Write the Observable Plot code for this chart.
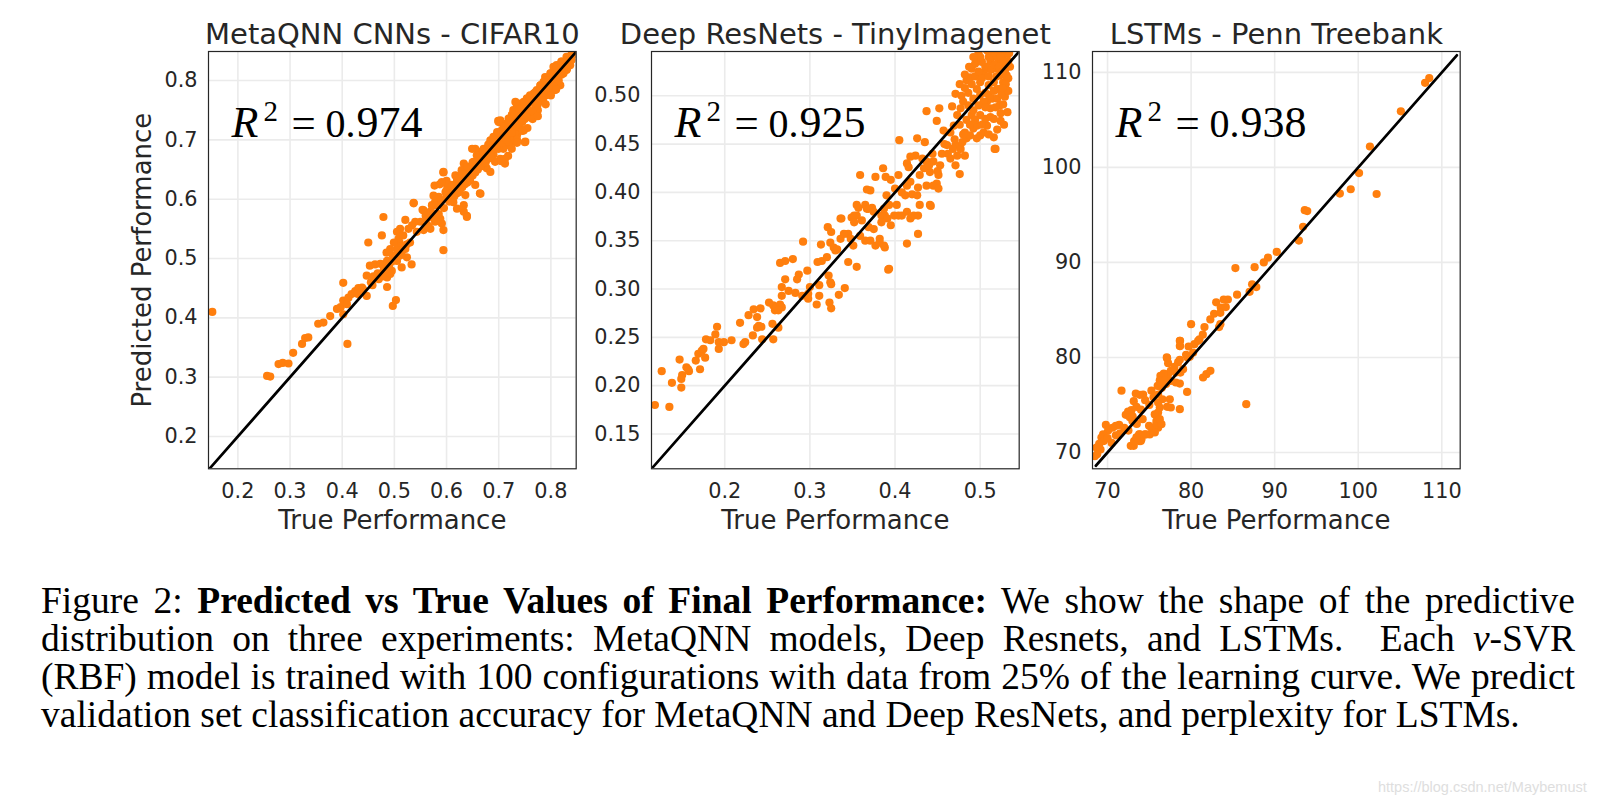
<!DOCTYPE html>
<html>
<head>
<meta charset="utf-8">
<script src="https://cdn.jsdelivr.net/npm/d3@7"></script>
<script src="https://cdn.jsdelivr.net/npm/@observablehq/plot@0.6"></script>
<style>
  body { margin: 0; background: #fff; }
  #root { position: relative; width: 1614px; height: 806px; overflow: hidden; background: #fff; }
  .panel { position: absolute; top: 0; }
  #caption { position: absolute; left: 41px; top: 582px; width: 1534px;
    font-family: "Liberation Serif", "Times New Roman", serif; font-size: 37.5px; line-height: 38px; color: #000; }
  #caption .ln { white-space: nowrap; }
  #wm { position: absolute; left: 1378px; top: 779px; font-family: "Liberation Sans", Arial, sans-serif;
    font-size: 14.5px; color: #dedede; white-space: nowrap; }
</style>
</head>
<body>
<div id="root">
  <div id="p1" class="panel"></div>
  <div id="p2" class="panel"></div>
  <div id="p3" class="panel"></div>
  <div id="caption">
    <div class="ln j"><span>Figure 2: <b>Predicted vs True Values of Final Performance:</b> We show the shape of the predictive</span></div>
    <div class="ln j"><span>distribution on three experiments: MetaQNN models, Deep Resnets, and LSTMs.&nbsp; Each <i>ν</i>-SVR</span></div>
    <div class="ln j"><span>(RBF) model is trained with 100 configurations with data from 25% of the learning curve. We predict</span></div>
    <div class="ln"><span>validation set classification accuracy for MetaQNN and Deep ResNets, and perplexity for LSTMs.</span></div>
  </div>
  <div id="wm">https://blog.csdn.net/Maybemust</div>
</div>
<script>
// ---------------- DATA ----------------
const titles = ["MetaQNN CNNs - CIFAR10", "Deep ResNets - TinyImagenet", "LSTMs - Penn Treebank"];
const r2Values = ["974", "925", "938"];
const xLabel = "True Performance";
const yLabel = "Predicted Performance";

const cifarTicks = [0.2, 0.3, 0.4, 0.5, 0.6, 0.7, 0.8];
const cifarXDomain = [0.1437, 0.8485];
const cifarYDomain = [0.1455, 0.849];
const cifarDiag = [0.1437, 0.8485];
const cifarPoints = [
[0.151,0.410],[0.256,0.302],[0.262,0.301],[0.278,0.322],[0.286,0.324],[0.297,0.323],[0.306,0.341],[0.323,0.356],[0.329,0.366],[0.335,0.367],[0.354,0.390],[0.364,0.392],[0.377,0.403],[0.390,0.415],[0.397,0.418],[0.402,0.429],[0.402,0.406],[0.409,0.423],[0.402,0.459],[0.410,0.356],[0.412,0.434],[0.418,0.440],[0.425,0.445],[0.431,0.450],[0.438,0.451],[0.447,0.437],[0.450,0.527],[0.447,0.471],[0.453,0.488],[0.463,0.490],[0.473,0.491],[0.479,0.490],[0.486,0.496],[0.486,0.452],[0.465,0.468],[0.474,0.474],[0.486,0.468],[0.492,0.474],[0.497,0.420],[0.503,0.430],[0.495,0.479],[0.505,0.496],[0.514,0.485],[0.524,0.502],[0.533,0.490],[0.505,0.507],[0.514,0.516],[0.524,0.524],[0.505,0.516],[0.510,0.527],[0.537,0.593],[0.554,0.582],[0.594,0.645],[0.577,0.623],[0.587,0.625],[0.600,0.631],[0.664,0.610],[0.639,0.572],[0.633,0.579],[0.699,0.732],[0.683,0.687],[0.750,0.696],[0.718,0.673],
[0.430,0.440],[0.440,0.448],[0.455,0.460],[0.460,0.470],[0.468,0.475],[0.480,0.482],[0.488,0.485],[0.495,0.495],[0.500,0.500],[0.458,0.455],[0.470,0.465],[0.478,0.470],[0.490,0.488],[0.497,0.505],[0.485,0.478],
[0.840,0.846],[0.834,0.837],[0.827,0.829],[0.821,0.832],[0.811,0.826],[0.805,0.823],[0.818,0.820],[0.824,0.812],[0.831,0.820],[0.837,0.826],[0.799,0.812],[0.792,0.803],[0.786,0.798],[0.805,0.798],[0.811,0.803],[0.818,0.792],[0.808,0.784],[0.795,0.781],[0.789,0.806],[0.780,0.792],[0.773,0.784],[0.767,0.778],[0.760,0.775],[0.754,0.770],[0.748,0.764],[0.741,0.761],[0.735,0.756],[0.728,0.750],[0.764,0.764],[0.773,0.764],[0.780,0.770],[0.786,0.781],[0.792,0.787],[0.754,0.753],[0.748,0.744],[0.741,0.739],[0.735,0.758],[0.732,0.764],[0.725,0.742],[0.719,0.736],[0.712,0.727],[0.709,0.725],[0.703,0.733],[0.700,0.730],[0.706,0.716],[0.716,0.719],[0.722,0.722],[0.728,0.725],[0.738,0.728],[0.741,0.719],[0.748,0.716],[0.751,0.697],[0.735,0.708],[0.728,0.702],[0.725,0.697],[0.719,0.691],[0.716,0.697],[0.709,0.705],[0.697,0.713],[0.690,0.705],[0.684,0.699],[0.681,0.691],[0.690,0.685],[0.700,0.685],[0.709,0.685],[0.703,0.668],[0.712,0.660],[0.693,0.663],[0.684,0.674],[0.671,0.685],[0.665,0.680],[0.655,0.685],[0.649,0.685],[0.658,0.674],[0.665,0.663],[0.671,0.657],[0.677,0.652],[0.684,0.646],[0.652,0.663],[0.645,0.652],[0.633,0.660],[0.629,0.649],[0.639,0.640],[0.645,0.632],[0.655,0.624],[0.665,0.609],[0.623,0.638],[0.617,0.640],[0.620,0.629],[0.626,0.618],[0.636,0.607],[0.633,0.590],[0.639,0.570],[0.610,0.624],[0.601,0.624],[0.594,0.646],[0.591,0.629],[0.598,0.612],[0.607,0.601],[0.613,0.595],[0.620,0.584],[0.585,0.604],[0.578,0.595],[0.572,0.590],[0.575,0.606],[0.569,0.578],[0.556,0.581],[0.562,0.567],[0.550,0.562],[0.540,0.562],[0.534,0.556],[0.543,0.545],[0.556,0.548],[0.569,0.550],[0.578,0.562],[0.588,0.567],[0.591,0.559],[0.594,0.548],[0.537,0.594],[0.521,0.565],[0.527,0.550],[0.511,0.550],[0.505,0.545],[0.508,0.533],[0.499,0.527],[0.492,0.516],[0.485,0.510],[0.517,0.539],[0.530,0.527],[0.521,0.516],[0.514,0.510],[0.511,0.505],[0.502,0.502],[0.594,0.514],[0.479,0.570],[0.476,0.539],
[0.600,0.605],[0.605,0.612],[0.612,0.615],[0.618,0.625],[0.625,0.628],[0.630,0.635],[0.635,0.640],[0.640,0.645],[0.645,0.648],[0.650,0.655],[0.655,0.660],[0.660,0.665],[0.665,0.668],[0.670,0.675],[0.675,0.678],[0.680,0.682],[0.685,0.690],[0.690,0.695],[0.695,0.700],[0.700,0.705],[0.705,0.710],[0.710,0.712],[0.715,0.720],[0.720,0.725],[0.725,0.730],[0.730,0.735],[0.735,0.740],[0.740,0.745],[0.745,0.750],[0.750,0.752],[0.755,0.758],[0.760,0.765],[0.765,0.770],[0.770,0.772],[0.775,0.778],[0.780,0.785],[0.785,0.790],[0.790,0.792],[0.795,0.800],[0.800,0.805],[0.805,0.810],[0.810,0.815],[0.815,0.818],[0.820,0.825],[0.825,0.830],[0.830,0.835],[0.835,0.840],[0.840,0.843],
[0.720,0.705],[0.730,0.712],[0.740,0.722],[0.750,0.735],[0.760,0.745],[0.770,0.755],[0.780,0.768],[0.790,0.775],[0.800,0.790],[0.810,0.800],[0.820,0.810],[0.830,0.818],[0.760,0.738],[0.775,0.750],[0.785,0.765],[0.795,0.780],[0.805,0.792],[0.815,0.800],[0.700,0.690],[0.690,0.675],[0.680,0.668],[0.670,0.660],[0.660,0.650],[0.650,0.640],[0.640,0.628],[0.630,0.620],[0.620,0.610],[0.610,0.600],
[0.560,0.572],[0.565,0.555],[0.570,0.580],[0.575,0.568],[0.580,0.590],[0.585,0.575],[0.590,0.598],[0.595,0.585],[0.600,0.615],[0.605,0.596],[0.610,0.622],[0.615,0.605],[0.620,0.635],[0.625,0.612],[0.630,0.642],[0.635,0.625],[0.640,0.655],[0.645,0.636],[0.650,0.662],[0.655,0.645],[0.660,0.672],[0.665,0.655],[0.670,0.680],[0.675,0.662],[0.680,0.692],[0.685,0.672],[0.690,0.702],[0.695,0.685],[0.700,0.712],[0.705,0.695],[0.710,0.722],[0.715,0.700],[0.720,0.735],[0.725,0.712],[0.730,0.742],[0.735,0.722],[0.740,0.752],[0.745,0.730],[0.750,0.762],[0.755,0.740],[0.760,0.772],[0.765,0.748],[0.770,0.780],[0.775,0.760],[0.780,0.792],[0.785,0.772],[0.790,0.800],[0.795,0.782],[0.800,0.812],[0.805,0.790],[0.810,0.822],[0.815,0.808],[0.820,0.832],[0.825,0.815],[0.830,0.840],[0.835,0.828],[0.840,0.835],[0.845,0.845],[0.830,0.826],[0.820,0.816],
[0.755,0.720],[0.765,0.735],[0.775,0.740],[0.790,0.760],[0.745,0.715],[0.735,0.700],[0.800,0.775],[0.810,0.785],[0.712,0.668],[0.705,0.664],[0.725,0.685],[0.735,0.695]
];

const resnetXTicks = [0.2, 0.3, 0.4, 0.5];
const resnetYTicks = [0.15, 0.20, 0.25, 0.30, 0.35, 0.40, 0.45, 0.50];
const resnetXDomain = [0.114, 0.5458];
const resnetYDomain = [0.114, 0.5458];
const resnetDiag = [0.114, 0.5458];
const resnetPoints = [
[0.118,0.180],[0.135,0.178],[0.126,0.215],[0.138,0.203],[0.149,0.198],[0.149,0.207],[0.150,0.211],[0.147,0.227],[0.155,0.219],[0.158,0.215],[0.157,0.217],
[0.166,0.226],[0.169,0.233],[0.171,0.217],[0.173,0.236],[0.177,0.229],[0.175,0.238],[0.178,0.248],[0.183,0.247],[0.189,0.253],[0.191,0.261],[0.193,0.245],[0.193,0.238],[0.199,0.245],[0.208,0.247],
[0.218,0.265],[0.224,0.245],[0.222,0.243],[0.228,0.273],[0.234,0.279],[0.238,0.271],[0.242,0.280],[0.233,0.252],[0.238,0.260],[0.240,0.262],[0.243,0.261],[0.244,0.248],[0.252,0.286],[0.257,0.283],[0.259,0.278],[0.261,0.281],[0.265,0.284],[0.267,0.281],[0.263,0.278],[0.256,0.264],[0.263,0.260],[0.257,0.248],[0.267,0.302],[0.271,0.310],[0.267,0.293],[0.265,0.327],[0.271,0.329],[0.280,0.331],[0.275,0.298],[0.283,0.296],[0.287,0.315],[0.285,0.310],[0.291,0.293],[0.297,0.319],[0.298,0.295],[0.300,0.302],[0.298,0.290],[0.308,0.284],[0.292,0.349],[0.309,0.328],[0.314,0.329],[0.313,0.346],[0.320,0.333],[0.311,0.304],[0.311,0.293],[0.322,0.314],[0.324,0.307],[0.325,0.305],[0.323,0.286],[0.325,0.280],[0.334,0.294],[0.341,0.301],[0.321,0.364],[0.325,0.359],[0.324,0.348],[0.328,0.343],[0.330,0.340],[0.336,0.352],[0.337,0.373],[0.332,0.341],[0.345,0.328],[0.355,0.323],
[0.345,0.357],[0.349,0.374],[0.351,0.345],[0.355,0.376],[0.357,0.384],[0.361,0.371],[0.365,0.350],[0.369,0.364],[0.367,0.383],[0.371,0.402],[0.373,0.384],[0.377,0.345],[0.382,0.352],[0.388,0.376],[0.388,0.343],[0.392,0.320],[0.390,0.397],
[0.359,0.418],[0.367,0.403],[0.377,0.416],[0.386,0.425],[0.389,0.416],[0.395,0.413],[0.404,0.418],[0.405,0.454],[0.400,0.404],[0.408,0.400],[0.412,0.397],[0.414,0.407],[0.418,0.411],[0.420,0.398],[0.426,0.397],[0.427,0.405],[0.429,0.418],[0.434,0.425],[0.437,0.407],[0.426,0.456],[0.435,0.452],[0.442,0.386],[0.445,0.407],[0.449,0.409],[0.451,0.418],[0.453,0.428],[0.451,0.404],[0.441,0.421],[0.445,0.432],[0.437,0.432],[0.432,0.435],[0.424,0.438],[0.418,0.437],[0.414,0.430],[0.416,0.426],
[0.437,0.484],[0.452,0.487],[0.467,0.489],[0.471,0.502],[0.449,0.474],[0.457,0.464],[0.461,0.449],[0.471,0.449],[0.477,0.445],[0.482,0.438],[0.476,0.419],[0.471,0.428],[0.465,0.435],[0.473,0.438],[0.479,0.452],[0.484,0.456],[0.482,0.462],[0.488,0.459],[0.492,0.466],[0.496,0.456],[0.500,0.459],[0.504,0.462],[0.508,0.469],[0.506,0.476],[0.516,0.476],[0.516,0.457],[0.517,0.445],[0.512,0.487],[0.508,0.494],[0.510,0.501],[0.523,0.507],[0.527,0.501],[0.529,0.499],[0.532,0.483],[0.533,0.518],[0.496,0.469],[0.490,0.480],[0.486,0.490],[0.480,0.494],[0.477,0.487],[0.473,0.480],[0.469,0.469],[0.465,0.462],
[0.484,0.516],[0.488,0.519],[0.490,0.528],[0.494,0.533],[0.496,0.538],[0.498,0.544],[0.502,0.535],[0.504,0.524],[0.508,0.528],[0.512,0.535],[0.514,0.540],[0.518,0.544],[0.521,0.538],[0.525,0.533],[0.527,0.542],[0.520,0.528],[0.523,0.521],[0.529,0.528],[0.527,0.514],[0.516,0.514],[0.510,0.511],[0.520,0.507],[0.500,0.514],[0.496,0.507],[0.492,0.497],[0.500,0.501],[0.504,0.494],[0.514,0.497],[0.520,0.497],[0.523,0.490],[0.531,0.521],[0.531,0.535],[0.535,0.530],[0.521,0.547],[0.508,0.547],
[0.336,0.373],[0.352,0.376],[0.355,0.387],[0.365,0.387],[0.369,0.383],[0.352,0.369],[0.359,0.355],[0.375,0.380],[0.384,0.376],[0.387,0.383],[0.391,0.373],[0.395,0.366],[0.399,0.376],[0.393,0.387],[0.402,0.387],[0.404,0.376],[0.408,0.376],[0.414,0.380],[0.418,0.373],[0.422,0.376],[0.427,0.376],[0.429,0.387],[0.441,0.387],[0.414,0.347],[0.427,0.357],[0.375,0.362],[0.384,0.369],[0.340,0.357],[0.348,0.352],[0.371,0.350],[0.382,0.348],[0.387,0.345],
[0.393,0.321],[0.518,0.445],[0.524,0.474],[0.527,0.491],[0.525,0.502],[0.531,0.519],[0.529,0.526],[0.533,0.536],
[0.478,0.500],[0.482,0.508],[0.486,0.503],[0.490,0.512],[0.494,0.520],[0.498,0.525],[0.502,0.518],[0.506,0.530],[0.510,0.520],[0.513,0.527],[0.517,0.532],[0.519,0.520],[0.522,0.530],[0.526,0.525],[0.530,0.512],[0.533,0.505],[0.526,0.508],[0.516,0.505],[0.506,0.503],[0.498,0.490],[0.488,0.470],[0.492,0.485],[0.500,0.480],[0.506,0.488],[0.512,0.478],[0.518,0.488],[0.524,0.482],[0.528,0.470],[0.520,0.465],[0.510,0.460],[0.502,0.470],[0.494,0.475],[0.484,0.475],[0.476,0.470],[0.480,0.460],[0.470,0.455],[0.462,0.440],[0.468,0.445],[0.458,0.450],[0.500,0.540],[0.510,0.540],[0.516,0.545],[0.524,0.540],[0.528,0.535],[0.534,0.544],[0.492,0.540],[0.487,0.530],[0.482,0.522],[0.476,0.512],[0.455,0.440],[0.444,0.440],[0.440,0.428],[0.450,0.422]
];

const lstmTicks = [70, 80, 90, 100, 110];
const lstmXDomain = [68.2, 112.2];
const lstmYDomain = [68.28, 112.2];
const lstmDiag = [68.6, 111.8];
const lstmPoints = [
[108.5,109.4],[108.0,108.9],[105.1,105.9],[101.4,102.2],[100.1,99.4],[99.1,97.7],[97.8,97.25],[102.2,97.2],[93.6,95.5],[93.9,95.4],[93.4,93.75],[92.9,92.3],[90.25,91.1],[89.2,90.5],[88.7,90.0],[87.6,89.5],[85.3,89.4],[87.3,87.7],[87.8,87.4],[87.0,86.9],[85.5,86.6],[83.0,85.8],[83.9,86.1],[84.4,86.1],[83.55,85.25],[84.15,85.3],[82.75,84.6],[83.5,84.7],[82.3,84.0],[83.5,83.5],[83.35,83.2],[80.0,83.5],[81.6,83.2],[81.4,82.4],[81.0,81.9],
[80.84,81.75],[80.4,81.4],[79.7,81.15],[78.65,81.75],[78.65,81.2],[79.4,80.27],[79.84,80.06],[80.24,80.5],[78.65,79.75],[78.45,79.5],[77.13,79.92],[77.25,79.4],[79.04,78.76],[78.72,78.41],[78.17,78.41],[77.57,78.6],[77.25,78.24],[76.73,78.3],[76.33,78.06],[76.25,77.6],[76.85,77.53],[77.57,77.53],[78.17,77.36],[78.65,77.25],[79.52,76.37],[78.65,74.55],[77.45,75.6],[77.13,74.8],[77.57,74.73],[76.57,75.6],[76.05,75.25],[76.05,76.1],[76.25,74.73],[76.05,74.2],[75.65,74.0],[75.85,73.3],[76.05,72.6],[75.25,72.6],[74.97,72.8],[75.05,71.9],[74.46,71.9],[73.86,71.9],[73.46,71.6],[73.14,70.7],[73.78,71.2],[74.06,71.4],[75.25,76.5],[74.26,76.1],[73.86,76.06],[73.38,76.2],[73.14,75.4],[73.46,74.8],[72.86,74.45],[72.46,74.3],[72.18,73.96],[72.66,73.7],[72.98,73.3],[71.67,76.5],[71.39,72.9],[70.99,72.8],[70.59,72.6],[69.8,72.9],[70.07,72.3],[69.47,71.9],[69.27,71.57],[69.55,71.2],[69.0,70.9],[68.68,70.5],[69.16,70.3],[68.76,69.8],[68.48,69.6],[75.46,72.6],[75.85,72.97],[76.45,72.97],[76.25,73.5],[75.66,72.1],[81.43,77.89],[81.83,78.24],[82.31,78.59],[86.6,75.08],
[74.5,75.5],[75.0,75.0],[75.5,75.8],[76.5,76.8],[77.0,77.2],[74.0,74.5],[73.0,73.8],[72.0,72.6],[71.5,72.0],[70.5,71.0],[70.0,71.5],[71.0,71.8],[72.5,72.3],[73.5,73.0],[74.2,73.5],[76.0,77.0],[78.0,79.0],[77.09,80.0],[78.68,81.75],[78.68,81.2],[79.56,80.0],
[72.78,70.7],[73.18,71.2],[73.78,71.9],[73.98,71.2],[74.58,71.9],[73.5,71.57]
];

// ---------------- LAYOUT ----------------
const ML = 110, MR = 12, MT = 50, MB = 75, FW = 367.7, FH = 417.3;
const frameLefts = [208.3, 650.7, 1091.7];
const frameTop = 50.7;
const TEXT = "#262626";
const ORANGE = "#ff7f0e";
const GRID = "#ebebeb";

function panel(idx, cfg) {
  const serif = "Liberation Serif, Times New Roman, serif";
  const r2 = (txt, dx, dy, size, extra = {}) =>
    Plot.text([txt], {text: d => d, frameAnchor: "top-left", textAnchor: "start", lineAnchor: "bottom",
      dx, dy, fontSize: size, fontFamily: serif, fill: "#000", ...extra});
  const marks = [
    Plot.gridX(cfg.xTicks, {stroke: GRID, strokeOpacity: 1, strokeWidth: 1.6}),
    Plot.gridY(cfg.yTicks, {stroke: GRID, strokeOpacity: 1, strokeWidth: 1.6}),
    Plot.dot(cfg.points, {x: d => d[0], y: d => d[1], r: 4.1, fill: ORANGE, stroke: "none", clip: true}),
    Plot.line(cfg.diag.map(v => [v, v]), {x: d => d[0], y: d => d[1], stroke: "#000", strokeWidth: 2.7, clip: true}),
    Plot.frame({stroke: TEXT, strokeWidth: 1.2}),
    Plot.axisX(cfg.xTicks, {tickSize: 0, tickPadding: 14, tickFormat: cfg.xFmt, label: null}),
    Plot.axisY(cfg.yTicks, {tickSize: 0, tickPadding: 11, tickFormat: cfg.yFmt, label: null}),
    Plot.text([titles[idx]], {text: d => d, frameAnchor: "top", textAnchor: "middle", lineAnchor: "bottom", dy: -7.4, fontSize: 29, fill: TEXT}),
    Plot.text([xLabel], {text: d => d, frameAnchor: "bottom", textAnchor: "middle", lineAnchor: "bottom", dy: 60.3, fontSize: 26, fill: TEXT}),
    r2("R", 23, 86, 44, {fontStyle: "italic"}),
    r2("2", 55, 69.3, 29),
    r2("=", 83, 86, 43),
    r2("0.", 117, 86, 40),
    r2(r2Values[idx], 148, 86, 44)
  ];
  if (cfg.yLabel) {
    marks.push(Plot.text([yLabel], {text: d => d, frameAnchor: "left", rotate: -90, textAnchor: "middle", lineAnchor: "bottom", dx: -58, fontSize: 26, fill: TEXT}));
  }
  const plot = Plot.plot({
    width: ML + FW + MR, height: MT + FH + MB,
    marginLeft: ML, marginRight: MR, marginTop: MT, marginBottom: MB,
    style: {background: "transparent", overflow: "visible", fontFamily: "DejaVu Sans", fontSize: "20.8px", color: TEXT},
    x: {domain: cfg.xDomain},
    y: {domain: cfg.yDomain},
    marks
  });
  const host = document.getElementById("p" + (idx + 1));
  host.style.left = (frameLefts[idx] - ML) + "px";
  host.style.top = (frameTop - MT) + "px";
  host.style.width = (ML + FW + MR) + "px";
  host.appendChild(plot);
}

panel(0, {points: cifarPoints, xDomain: cifarXDomain, yDomain: cifarYDomain, xTicks: cifarTicks, yTicks: cifarTicks,
  xFmt: d3.format(".1f"), yFmt: d3.format(".1f"), diag: cifarDiag, yLabel: true});
panel(1, {points: resnetPoints, xDomain: resnetXDomain, yDomain: resnetYDomain, xTicks: resnetXTicks, yTicks: resnetYTicks,
  xFmt: d3.format(".1f"), yFmt: d3.format(".2f"), diag: resnetDiag, yLabel: false});
panel(2, {points: lstmPoints, xDomain: lstmXDomain, yDomain: lstmYDomain, xTicks: lstmTicks, yTicks: lstmTicks,
  xFmt: d3.format("d"), yFmt: d3.format("d"), diag: lstmDiag, yLabel: false});

// justify caption lines to full width
const capW = 1534;
document.querySelectorAll("#caption .j").forEach(line => {
  const span = line.querySelector("span");
  const w = span.getBoundingClientRect().width;
  const n = (span.textContent.match(/[ \u00a0]/g) || []).length;
  if (n > 0) span.style.wordSpacing = ((capW - w) / n) + "px";
});
</script>
</body>
</html>
